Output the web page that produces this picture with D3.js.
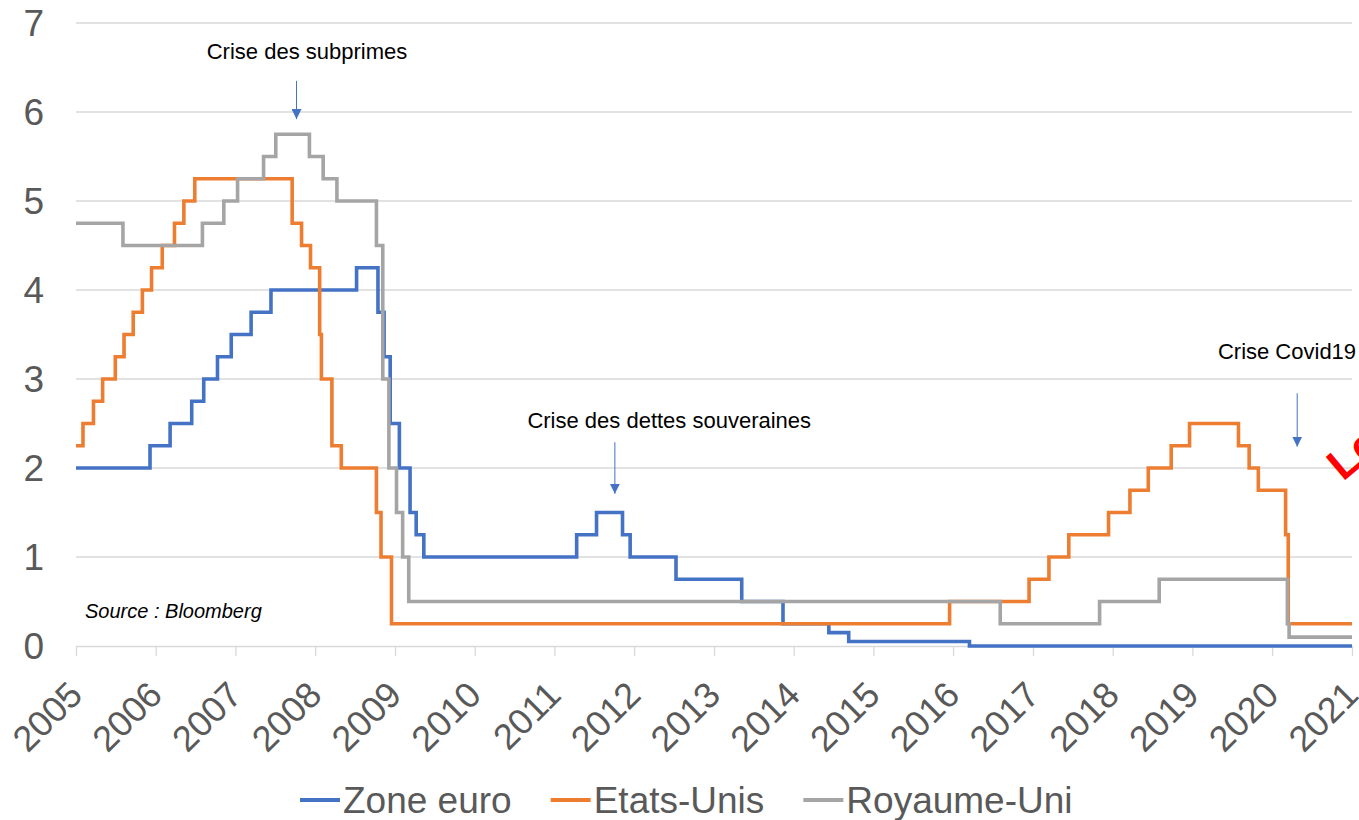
<!DOCTYPE html>
<html>
<head>
<meta charset="utf-8">
<script src="https://cdn.jsdelivr.net/npm/d3@7"></script>
<style>
  body { margin: 0; background: #fff; }
  svg { display: block; font-family: "Liberation Sans", Arial, sans-serif; }
</style>
</head>
<body>
<div id="chart"></div>
<script>
var width = 1359,
    height = 820;

// policy rates: each date is the day a new rate starts
var euroDates = ["2005-01-01", "2005-12-06", "2006-03-08", "2006-06-15", "2006-08-09", "2006-10-11",
    "2006-12-13", "2007-03-14", "2007-06-13", "2008-07-09", "2008-10-15", "2008-11-12", "2008-12-10",
    "2009-01-21", "2009-03-11", "2009-04-08", "2009-05-13", "2011-04-13", "2011-07-13", "2011-11-09",
    "2011-12-14", "2012-07-11", "2013-05-08", "2013-11-13", "2014-06-11", "2014-09-10", "2016-03-16",
    "2021-01-01"];
var euroRates = [2.00, 2.25, 2.50, 2.75, 3.00, 3.25, 3.50, 3.75, 4.00, 4.25, 3.75, 3.25, 2.50,
    2.00, 1.50, 1.25, 1.00, 1.25, 1.50, 1.25, 1.00, 0.75, 0.50, 0.25, 0.15, 0.05, 0.00, 0.00];

var fedDates = ["2005-01-01", "2005-02-02", "2005-03-22", "2005-05-03", "2005-06-30", "2005-08-09",
    "2005-09-20", "2005-11-01", "2005-12-13", "2006-01-31", "2006-03-28", "2006-05-10", "2006-06-29",
    "2007-09-18", "2007-10-31", "2007-12-11", "2008-01-22", "2008-01-30", "2008-03-18", "2008-04-30",
    "2008-10-08", "2008-10-29", "2008-12-16", "2015-12-16", "2016-12-14", "2017-03-15", "2017-06-14",
    "2017-12-13", "2018-03-21", "2018-06-13", "2018-09-26", "2018-12-19", "2019-07-31", "2019-09-18",
    "2019-10-30", "2020-03-03", "2020-03-15", "2021-01-01"];
var fedRates = [2.25, 2.50, 2.75, 3.00, 3.25, 3.50, 3.75, 4.00, 4.25, 4.50, 4.75, 5.00, 5.25,
    4.75, 4.50, 4.25, 3.50, 3.00, 2.25, 2.00, 1.50, 1.00, 0.25, 0.50, 0.75, 1.00, 1.25,
    1.50, 1.75, 2.00, 2.25, 2.50, 2.25, 2.00, 1.75, 1.25, 0.25, 0.25];

var boeDates = ["2005-01-01", "2005-08-04", "2006-08-03", "2006-11-09", "2007-01-11", "2007-05-10",
    "2007-07-05", "2007-12-06", "2008-02-07", "2008-04-10", "2008-10-08", "2008-11-06", "2008-12-04",
    "2009-01-08", "2009-02-05", "2009-03-05", "2016-08-04", "2017-11-02", "2018-08-02", "2020-03-11",
    "2020-03-19", "2021-01-01"];
var boeRates = [4.75, 4.50, 4.75, 5.00, 5.25, 5.50, 5.75, 5.50, 5.25, 5.00, 4.50, 3.00, 2.00,
    1.50, 1.00, 0.50, 0.25, 0.50, 0.75, 0.25, 0.10, 0.10];

var seriesNames = ["Zone euro", "Etats-Unis", "Royaume-Uni"];
var seriesColors = ["#4472c4", "#ed7d31", "#a5a5a5"];

var yearTicks = d3.range(2005, 2022);
var yTicks = [0, 1, 2, 3, 4, 5, 6, 7];

var notes = [
    { text: "Crise des subprimes", textDate: "2007-11-25", textValue: 6.6, anchor: "middle",
      arrowDate: "2007-10-08", from: 6.35, to: 5.92 },
    { text: "Crise des dettes souveraines", textDate: "2012-06-10", textValue: 2.45, anchor: "middle",
      arrowDate: "2011-10-05", from: 2.29, to: 1.71 },
    { text: "Crise Covid19", textDate: "2019-04-28", textValue: 3.22, anchor: "start",
      arrowDate: "2020-04-25", from: 2.84, to: 2.24 }
];

var parse = d3.timeParse("%Y-%m-%d");

function makeSeries(dates, rates) {
    return dates.map(function(d, i) { return { date: parse(d), value: rates[i] }; });
}
var series = [makeSeries(euroDates, euroRates), makeSeries(fedDates, fedRates), makeSeries(boeDates, boeRates)];

var plotLeft = 76, plotRight = 1352, plotTop = 23, plotBottom = 646;

var x = d3.scaleTime()
    .domain([new Date(2005, 0, 1), new Date(2021, 0, 1)])
    .range([plotLeft, plotRight]);
var y = d3.scaleLinear()
    .domain([0, 7])
    .range([plotBottom, plotTop]);

var svg = d3.select("#chart").append("svg")
    .attr("width", width)
    .attr("height", height);

// horizontal grid
svg.append("g")
    .selectAll("line")
    .data(yTicks.slice(1))
    .enter().append("line")
    .attr("x1", plotLeft).attr("x2", plotRight)
    .attr("y1", function(d) { return y(d); })
    .attr("y2", function(d) { return y(d); })
    .attr("stroke", "#d9d9d9")
    .attr("stroke-width", 1.3);

// y labels
svg.append("g")
    .selectAll("text")
    .data(yTicks)
    .enter().append("text")
    .attr("x", 44)
    .attr("y", function(d) { return y(d); })
    .attr("dy", "0.36em")
    .attr("text-anchor", "end")
    .attr("font-size", 37)
    .attr("fill", "#595959")
    .text(function(d) { return d; });

// x axis
var xAxis = d3.axisBottom(x)
    .tickValues(yearTicks.map(function(yr) { return new Date(yr, 0, 1); }))
    .tickFormat(d3.timeFormat("%Y"))
    .tickSize(10)
    .tickSizeOuter(0);

var gx = svg.append("g")
    .attr("transform", "translate(0," + plotBottom + ")")
    .call(xAxis);
gx.select(".domain").attr("stroke", "#d9d9d9").attr("stroke-width", 1.3);
gx.selectAll(".tick line").attr("stroke", "#d9d9d9").attr("stroke-width", 1.3);
gx.selectAll(".tick text")
    .attr("font-size", 36)
    .attr("font-family", "Liberation Sans, Arial, sans-serif")
    .attr("fill", "#595959")
    .attr("text-anchor", "end")
    .attr("y", 0).attr("dy", 0)
    .attr("transform", "translate(8,51) rotate(-45)");

// lines
var line = d3.line()
    .curve(d3.curveStepAfter)
    .x(function(d) { return x(d.date); })
    .y(function(d) { return y(d.value); });

svg.append("g")
    .selectAll("path")
    .data(series)
    .enter().append("path")
    .attr("d", line)
    .attr("fill", "none")
    .attr("stroke", function(d, i) { return seriesColors[i]; })
    .attr("stroke-width", 3.6)
    .attr("stroke-linejoin", "miter");

// annotations
svg.append("defs").append("marker")
    .attr("id", "head")
    .attr("viewBox", "0 0 10 10")
    .attr("refX", 10).attr("refY", 5)
    .attr("markerWidth", 10).attr("markerHeight", 10)
    .attr("markerUnits", "userSpaceOnUse")
    .attr("orient", "auto")
    .append("path")
    .attr("d", "M0,0L10,5L0,10Z")
    .attr("fill", "#4472c4");

var ann = svg.append("g").selectAll("g").data(notes).enter().append("g");
ann.append("text")
    .attr("x", function(d) { return x(parse(d.textDate)); })
    .attr("y", function(d) { return y(d.textValue); })
    .attr("text-anchor", function(d) { return d.anchor; })
    .attr("font-size", 22)
    .attr("fill", "#000")
    .text(function(d) { return d.text; });
ann.append("line")
    .attr("x1", function(d) { return x(parse(d.arrowDate)); })
    .attr("x2", function(d) { return x(parse(d.arrowDate)); })
    .attr("y1", function(d) { return y(d.from); })
    .attr("y2", function(d) { return y(d.to); })
    .attr("stroke", "#4472c4")
    .attr("stroke-width", 1)
    .attr("marker-end", "url(#head)");

// source
svg.append("text")
    .attr("x", 85).attr("y", 618)
    .attr("font-size", 20)
    .attr("font-style", "italic")
    .attr("fill", "#000")
    .text("Source : Bloomberg");

// red stamp cut by the right edge
svg.append("text")
    .attr("transform", "translate(1343,482) rotate(-40)")
    .attr("font-size", 44)
    .attr("font-weight", "bold")
    .attr("fill", "#ff0000")
    .text("Le");

// legend
var legend = svg.append("g").attr("transform", "translate(0,800)");
var items = legend.selectAll("g").data(seriesNames).enter().append("g");
items.append("line")
    .attr("x1", 0).attr("x2", 40)
    .attr("stroke", function(d, i) { return seriesColors[i]; })
    .attr("stroke-width", 4);
items.append("text")
    .attr("x", 43)
    .attr("dy", "0.35em")
    .attr("font-size", 37)
    .attr("fill", "#595959")
    .text(function(d) { return d; });

var pos = 300;
items.each(function() {
    var w = d3.select(this).select("text").node().getComputedTextLength();
    d3.select(this).attr("transform", "translate(" + pos + ",0)");
    pos += 43 + w + 39;
});
</script>
</body>
</html>
